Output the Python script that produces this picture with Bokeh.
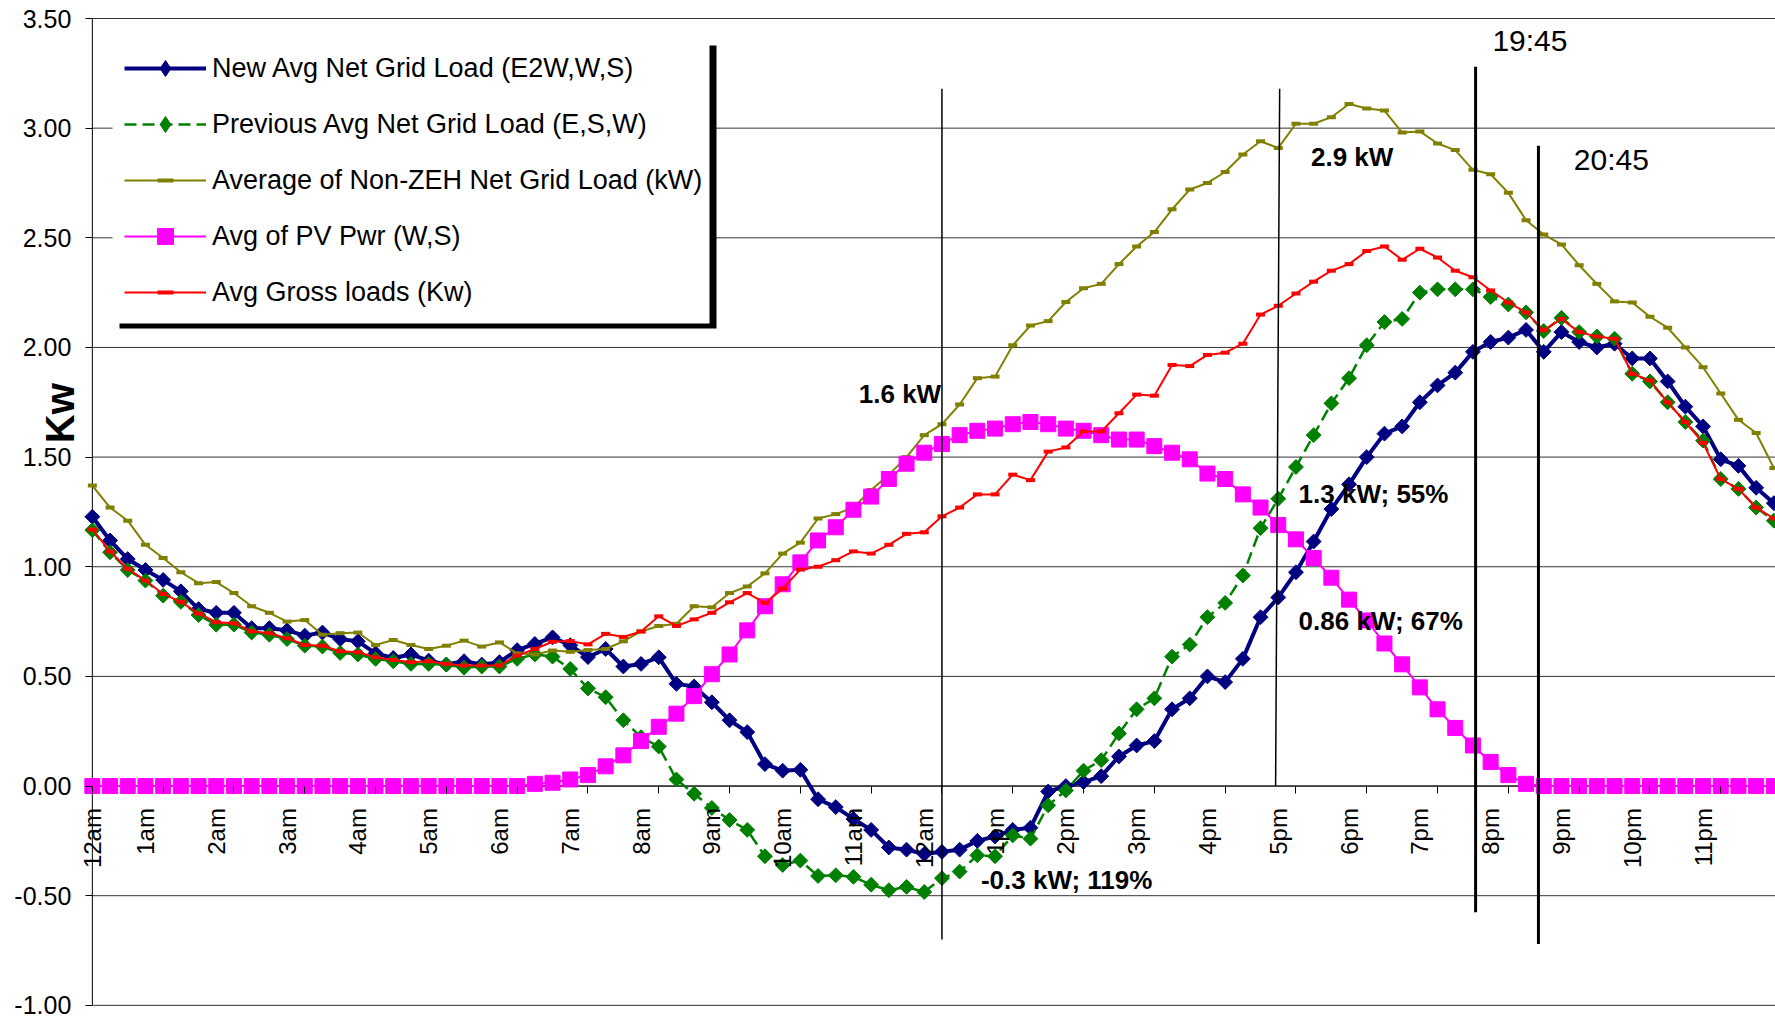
import math
from bokeh.plotting import figure
from bokeh.models import (Range1d, LinearAxis, FixedTicker, NumeralTickFormatter,
                          Legend, LegendItem, BoxAnnotation, Label)
from bokeh.core.properties import value
from bokeh.embed import file_html
from bokeh.resources import INLINE

FONT = "Liberation Sans"

# ---- data (15-minute intervals, 96 per day) ----
new_avg = [1.228, 1.12, 1.035, 0.985, 0.94, 0.888, 0.807, 0.79, 0.79, 0.72,
           0.72, 0.71, 0.686, 0.70, 0.67, 0.66, 0.605, 0.584, 0.60, 0.572,
           0.554, 0.569, 0.554, 0.565, 0.62, 0.648, 0.678, 0.642, 0.588, 0.625,
           0.545, 0.557, 0.587, 0.466, 0.454, 0.382, 0.30, 0.246, 0.10, 0.07,
           0.074, -0.06, -0.096, -0.15, -0.20, -0.28, -0.29, -0.31, -0.30, -0.29,
           -0.25, -0.23, -0.20, -0.19, -0.025, 0.0, 0.018, 0.045, 0.135, 0.185,
           0.205, 0.35, 0.40, 0.50, 0.474, 0.58, 0.77, 0.86, 0.975, 1.115,
           1.263, 1.376, 1.50, 1.607, 1.64, 1.75, 1.827, 1.885, 1.98, 2.025,
           2.045, 2.08, 1.98, 2.07, 2.025, 2.00, 2.017, 1.95, 1.95, 1.845,
           1.73, 1.64, 1.49, 1.46, 1.36, 1.29]

prev_avg = [1.167, 1.066, 0.985, 0.937, 0.868, 0.84, 0.78, 0.736, 0.736, 0.70,
            0.69, 0.67, 0.64, 0.636, 0.607, 0.60, 0.58, 0.569, 0.557, 0.557,
            0.554, 0.54, 0.545, 0.545, 0.58, 0.60, 0.59, 0.534, 0.445, 0.405,
            0.30, 0.223, 0.18, 0.03, -0.035, -0.10, -0.155, -0.20, -0.32, -0.36,
            -0.34, -0.41, -0.407, -0.414, -0.45, -0.475, -0.46, -0.483, -0.42, -0.39,
            -0.316, -0.32, -0.225, -0.24, -0.088, -0.02, 0.07, 0.118, 0.24, 0.35,
            0.40, 0.59, 0.645, 0.77, 0.835, 0.96, 1.176, 1.31, 1.455, 1.60,
            1.745, 1.86, 2.01, 2.116, 2.13, 2.25, 2.265, 2.265, 2.265, 2.23,
            2.196, 2.16, 2.075, 2.135, 2.07, 2.05, 2.04, 1.88, 1.845, 1.75,
            1.66, 1.575, 1.40, 1.355, 1.27, 1.21]

non_zeh = [1.37, 1.27, 1.21, 1.10, 1.04, 0.975, 0.925, 0.93, 0.88, 0.82,
           0.79, 0.75, 0.757, 0.69, 0.697, 0.70, 0.643, 0.666, 0.643, 0.625,
           0.64, 0.663, 0.636, 0.655, 0.605, 0.60, 0.618, 0.612, 0.62, 0.625,
           0.66, 0.705, 0.73, 0.74, 0.82, 0.815, 0.88, 0.91, 0.97, 1.06,
           1.11, 1.22, 1.24, 1.27, 1.35, 1.42, 1.50, 1.60, 1.65, 1.74,
           1.86, 1.867, 2.01, 2.10, 2.12, 2.207, 2.27, 2.29, 2.38, 2.46,
           2.526, 2.63, 2.72, 2.75, 2.80, 2.88, 2.94, 2.91, 3.02, 3.02,
           3.05, 3.11, 3.09, 3.08, 2.98, 2.985, 2.93, 2.90, 2.81, 2.79,
           2.705, 2.58, 2.515, 2.47, 2.375, 2.29, 2.21, 2.205, 2.14, 2.09,
           2.00, 1.91, 1.79, 1.67, 1.61, 1.45]

pv_pwr = [0.0] * 25 + [
    0.01, 0.015, 0.03, 0.05, 0.09, 0.14, 0.205, 0.27, 0.33, 0.41,
    0.51, 0.60, 0.71, 0.82, 0.92, 1.02, 1.12, 1.18, 1.26, 1.32,
    1.40, 1.47, 1.52, 1.56, 1.60, 1.62, 1.63, 1.65, 1.66, 1.65,
    1.63, 1.62, 1.60, 1.58, 1.58, 1.55, 1.52, 1.49, 1.425, 1.40,
    1.33, 1.27, 1.19, 1.125, 1.04, 0.95, 0.85, 0.755, 0.65, 0.555,
    0.45, 0.35, 0.265, 0.185, 0.11, 0.05, 0.01] + [0.0] * 14

gross = [1.17, 1.07, 0.99, 0.937, 0.876, 0.84, 0.787, 0.747, 0.742, 0.706,
         0.697, 0.674, 0.643, 0.64, 0.615, 0.61, 0.587, 0.575, 0.565, 0.569,
         0.557, 0.55, 0.55, 0.55, 0.595, 0.625, 0.658, 0.661, 0.646, 0.694,
         0.68, 0.705, 0.774, 0.73, 0.76, 0.79, 0.838, 0.88, 0.835, 0.90,
         0.987, 1.00, 1.03, 1.07, 1.06, 1.10, 1.15, 1.157, 1.23, 1.27,
         1.33, 1.33, 1.42, 1.395, 1.525, 1.544, 1.617, 1.617, 1.70, 1.785,
         1.78, 1.92, 1.915, 1.966, 1.976, 2.017, 2.15, 2.19, 2.246, 2.30,
         2.35, 2.38, 2.44, 2.46, 2.40, 2.45, 2.41, 2.35, 2.32, 2.26,
         2.205, 2.16, 2.078, 2.13, 2.07, 2.05, 2.04, 1.88, 1.85, 1.75,
         1.66, 1.565, 1.40, 1.355, 1.27, 1.22]

slots = list(range(len(new_avg)))

hour_labels = ["12am", "1am", "2am", "3am", "4am", "5am", "6am", "7am", "8am",
               "9am", "10am", "11am", "12am", "1pm", "2pm", "3pm", "4pm", "5pm",
               "6pm", "7pm", "8pm", "9pm", "10pm", "11pm"]
hour_label_slots = [0] + [4 * h - 1 for h in range(1, 24)]
tick_slots = list(range(0, 96, 4))
y_ticks = [-1.0, -0.5, 0.0, 0.5, 1.0, 1.5, 2.0, 2.5, 3.0, 3.5]
y_title = "Kw"

series_names = ["New Avg Net Grid Load (E2W,W,S)",
                "Previous Avg Net Grid Load (E,S,W)",
                "Average of Non-ZEH Net Grid Load (kW)",
                "Avg of PV Pwr (W,S)",
                "Avg Gross loads (Kw)"]

# annotation marker lines (slot, kW)
mark_x0 = [48.0, 67.08, 78.15, 81.7]
mark_y0 = [3.18, 3.18, 3.28, 2.92]
mark_x1 = [48.0, 66.85, 78.15, 81.7]
mark_y1 = [-0.70, 0.0, -0.575, -0.72]
mark_w = [1.5, 1.5, 3.0, 3.0]

bold_notes = ["1.6 kW", "2.9 kW", "1.3 kW; 55%", "0.86 kW; 67%", "-0.3 kW; 119%"]
bold_x = [43.3, 68.85, 68.15, 68.15, 50.2]
bold_y = [1.79, 2.87, 1.334, 0.751, -0.428]
time_notes = ["19:45", "20:45"]
time_x = [79.1, 83.7]
time_y = [3.40, 2.855]

# ---- geometry ----
W, H = 1775, 1021
SLOT_PX = 17.7          # pixels per 15-minute slot
ORIGIN_PX = 91.85       # canvas x of slot 0
KW_PX = 219.3           # pixels per kW
TOP_PX = 18.0           # canvas y of 3.50 kW
y_lo, y_hi = y_ticks[0], y_ticks[-1]
x_start = -ORIGIN_PX / SLOT_PX
x_end = (W - ORIGIN_PX) / SLOT_PX
y_top = y_hi + TOP_PX / KW_PX
y_bot = y_hi - (H - TOP_PX) / KW_PX

p = figure(width=W, height=H, output_backend="svg", toolbar_location=None,
           x_range=Range1d(x_start, x_end), y_range=Range1d(y_bot, y_top),
           x_axis_location=None, y_axis_location=None,
           min_border_left=0, min_border_right=0, min_border_top=0, min_border_bottom=0,
           background_fill_color="white", border_fill_color="white")
p.outline_line_color = None
p.xgrid.visible = False
p.ygrid.visible = False

# horizontal gridlines (from the axis to the right edge)
p.segment(x0=[0] * len(y_ticks), y0=y_ticks, x1=[x_end] * len(y_ticks), y1=y_ticks,
          line_color="#333333", line_width=1)

# y axis at slot 0
y_axis = LinearAxis(fixed_location=0, ticker=FixedTicker(ticks=y_ticks),
                    formatter=NumeralTickFormatter(format="0.00"))
y_axis.axis_line_color = None
y_axis.major_tick_out = 7
y_axis.major_tick_in = 0
y_axis.major_tick_line_color = "black"
y_axis.minor_tick_line_color = None
y_axis.major_label_standoff = 14
y_axis.major_label_text_font = FONT
y_axis.major_label_text_font_size = "25px"
y_axis.major_label_text_color = "black"
p.add_layout(y_axis, "left")

# axis lines
p.segment(x0=[0, 0], y0=[y_lo, 0], x1=[0, x_end], y1=[y_hi, 0],
          line_color="black", line_width=1)

# x axis at y = 0 : ticks
tick_axis = LinearAxis(fixed_location=0, ticker=FixedTicker(ticks=tick_slots))
tick_axis.axis_line_color = None
tick_axis.major_tick_out = 7
tick_axis.major_tick_in = 0
tick_axis.major_tick_line_color = "black"
tick_axis.minor_tick_line_color = None
tick_axis.major_label_text_color = None
tick_axis.major_label_text_font_size = "1px"
p.add_layout(tick_axis, "below")

# x axis at y = 0 : hour labels
label_axis = LinearAxis(fixed_location=0, ticker=FixedTicker(ticks=hour_label_slots))
label_axis.major_label_overrides = {s: t for s, t in zip(hour_label_slots, hour_labels)}
label_axis.axis_line_color = None
label_axis.major_tick_line_color = None
label_axis.minor_tick_line_color = None
label_axis.major_tick_out = 0
label_axis.major_tick_in = 0
label_axis.major_label_orientation = math.pi / 2
label_axis.major_label_standoff = 22
label_axis.major_label_text_font = FONT
label_axis.major_label_text_font_size = "24px"
label_axis.major_label_text_color = "black"
p.add_layout(label_axis, "below")

# y title
p.add_layout(Label(x=-1.83, y=1.70, text=y_title, angle=math.pi / 2, text_font=FONT,
                   text_font_size="40px", text_font_style="bold", text_align="center",
                   text_baseline="middle", text_color="black"))

# ---- series ----
NAVY, GREEN, OLIVE, MAGENTA, RED = "#000080", "#008000", "#808000", "#FF00FF", "#FF0000"

r1l = p.line(slots, new_avg, line_color=NAVY, line_width=4)
r1k = p.scatter(slots, new_avg, marker="diamond", size=10, color=NAVY)  # legend key
r1m = p.scatter(slots, new_avg, marker="square", angle=math.pi / 4, size=10.5,
                fill_color=NAVY, line_color=NAVY)
r2l = p.line(slots, prev_avg, line_color=GREEN, line_width=2.5, line_dash="12 6")
r2k = p.scatter(slots, prev_avg, marker="diamond", size=10, color=GREEN)  # legend key
r2m = p.scatter(slots, prev_avg, marker="square", angle=math.pi / 4, size=10.5,
                fill_color=GREEN, line_color=GREEN)
r3l = p.line(slots, non_zeh, line_color=OLIVE, line_width=2)
r3m = p.scatter(slots, non_zeh, marker="dash", size=9, line_color=OLIVE, line_width=4)
r4l = p.line(slots, pv_pwr, line_color=MAGENTA, line_width=2)
r4m = p.scatter(slots, pv_pwr, marker="square", size=15,
                fill_color=MAGENTA, line_color=MAGENTA)
r5l = p.line(slots, gross, line_color=RED, line_width=2)
r5m = p.scatter(slots, gross, marker="dash", size=9, line_color=RED, line_width=4)

# ---- annotations ----
p.segment(x0=mark_x0, y0=mark_y0, x1=mark_x1, y1=mark_y1, line_color="black",
          line_width=mark_w)
p.text(x=bold_x, y=bold_y, text=bold_notes, text_font=value(FONT), text_font_size="26px",
       text_font_style="bold", text_align="left", text_baseline="middle", text_color="black")
p.text(x=time_x, y=time_y, text=time_notes, text_font=value(FONT), text_font_size="30px",
       text_align="left", text_baseline="middle", text_color="black")

# ---- legend: white box with black drop shadow ----
p.add_layout(BoxAnnotation(left=119, right=716, top=45, bottom=328,
                           left_units="canvas", right_units="canvas",
                           top_units="canvas", bottom_units="canvas",
                           fill_color="black", fill_alpha=1.0, line_color=None))
p.add_layout(BoxAnnotation(left=112, right=709, top=38, bottom=323,
                           left_units="canvas", right_units="canvas",
                           top_units="canvas", bottom_units="canvas",
                           fill_color="white", fill_alpha=1.0, line_color=None))

groups = [[r1l, r1k], [r2l, r2k], [r3l, r3m], [r4l, r4m], [r5l, r5m]]
items = [LegendItem(label=n, renderers=g) for n, g in zip(series_names, groups)]
legend = Legend(items=items, location=(124, H - 312), glyph_width=82, glyph_height=40,
                label_height=40, spacing=16, padding=0, label_standoff=6, margin=0,
                label_text_font=FONT, label_text_font_size="27px", label_text_color="black",
                border_line_color=None, background_fill_alpha=0.0)
p.add_layout(legend)

open("out.html", "w").write(file_html(p, INLINE))
